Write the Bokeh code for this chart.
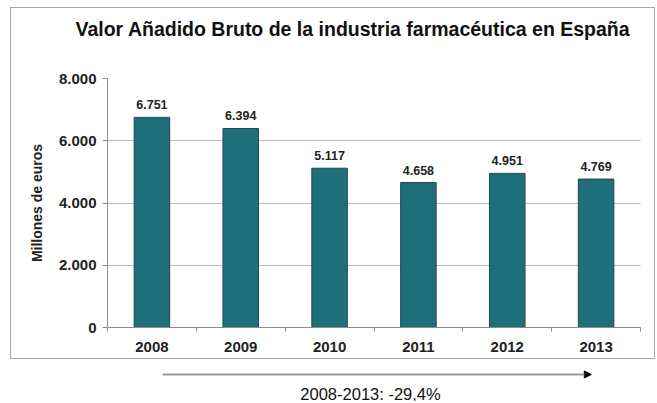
from bokeh.plotting import figure
from bokeh.models import (FixedTicker, CustomJSTickFormatter, ColumnDataSource, LabelSet,
                          Label, Arrow, NormalHead, Range1d, Title)
from bokeh.layouts import column
from bokeh.embed import file_html
from bokeh.resources import INLINE
from bokeh.core.properties import value

# ---- data ----
years = [2008, 2009, 2010, 2011, 2012, 2013]
vab = [6751, 6394, 5117, 4658, 4951, 4769]
y_ticks = [0, 2000, 4000, 6000, 8000]
title_text = "Valor Añadido Bruto de la industria farmacéutica en España"
y_label = "Millones de euros"

FONT = "Liberation Sans"
BAR = "#1f6f7a"
GREY = "#8c8c8c"

n = len(years)
centers = [i + 0.5 for i in range(n)]
bounds = [float(i) for i in range(n + 1)]
labels = [f"{v:,}".replace(",", ".") for v in vab]
src = ColumnDataSource(dict(x=centers, top=vab, lab=labels))

p = figure(width=645, height=352, output_backend="svg", toolbar_location=None,
           x_range=Range1d(0, n), y_range=Range1d(0, 8000),
           min_border_left=96, min_border_right=16, min_border_top=70, min_border_bottom=33)
p.margin = (7, 0, 0, 10)
p.styles = {"border": "1px solid #a8a8a8"}
p.outline_line_color = None
p.background_fill_color = "white"
p.border_fill_color = "white"

p.vbar(x="x", top="top", width=0.4, source=src, fill_color=BAR,
       line_color="#1b4c53", line_width=1)

p.add_layout(LabelSet(x="x", y="top", text="lab", source=src, y_offset=8,
                      text_align="center", text_baseline="bottom",
                      text_font=value(FONT), text_font_style="bold",
                      text_font_size="12.5px", text_color="#222222"))

# x axis: labels at category centres, small ticks at boundaries
xa = p.xaxis[0]
xa.ticker = FixedTicker(ticks=centers, minor_ticks=bounds)
xa.major_label_overrides = {c: str(y) for c, y in zip(centers, years)}
xa.major_tick_out = 0
xa.major_tick_in = 0
xa.minor_tick_out = 4
xa.minor_tick_in = 0
xa.minor_tick_line_color = GREY
xa.axis_line_color = GREY
xa.major_label_standoff = 10
xa.major_label_text_font = FONT
xa.major_label_text_font_style = "bold"
xa.major_label_text_font_size = "15px"
xa.major_label_text_color = "#222222"

ya = p.yaxis[0]
ya.ticker = FixedTicker(ticks=y_ticks, minor_ticks=[])
ya.formatter = CustomJSTickFormatter(
    code="return tick.toFixed(0).replace(/\\B(?=(\\d{3})+(?!\\d))/g, '.');")
ya.major_tick_out = 5
ya.major_tick_in = 0
ya.major_tick_line_color = GREY
ya.axis_line_color = GREY
ya.major_label_standoff = 6
ya.major_label_text_font = FONT
ya.major_label_text_font_style = "bold"
ya.major_label_text_font_size = "15px"
ya.major_label_text_color = "#222222"
ya.axis_label = y_label
ya.axis_label_standoff = 11
ya.axis_label_text_font = FONT
ya.axis_label_text_font_style = "bold"
ya.axis_label_text_font_size = "14px"
ya.axis_label_text_color = "#222222"

p.xgrid.grid_line_color = None
p.ygrid.ticker = FixedTicker(ticks=y_ticks)
p.ygrid.grid_line_color = "#777777"
p.ygrid.grid_line_dash = "1 1"
p.ygrid.grid_line_width = 1

# spacer between frame and title, then the title itself (outermost)
p.add_layout(Title(text=" ", text_font_size="1px", standoff=26), "above")
p.title.text = title_text
p.title.align = "left"
p.title.offset = -32
p.title.vertical_align = "top"
p.title.standoff = 16
p.title.text_font = FONT
p.title.text_font_style = "bold"
p.title.text_font_size = "19.5px"
p.title.text_color = "#111111"

# ---- bottom note with arrow ----
pct = (vab[-1] - vab[0]) / vab[0] * 100
note = f"{years[0]}-{years[-1]}: {pct:.1f}%".replace(".", ",")

p2 = figure(width=657, height=42, output_backend="svg", toolbar_location=None,
            x_range=Range1d(97, 640), y_range=Range1d(0, 42),
            min_border=0)
p2.axis.visible = False
p2.grid.grid_line_color = None
p2.outline_line_color = None
p2.add_layout(Arrow(x_start=163, y_start=27, x_end=590, y_end=27,
                    line_color="#9a9a9a", line_width=2,
                    end=NormalHead(size=7, fill_color="black", line_color="black")))
p2.add_layout(Label(x=370, y=8, text=note, text_align="center", text_baseline="middle",
                    text_font=FONT, text_font_size="16.5px", text_color="#111111"))

lay = column(p, p2, spacing=0)
open("out.html", "w").write(file_html(lay, INLINE))
